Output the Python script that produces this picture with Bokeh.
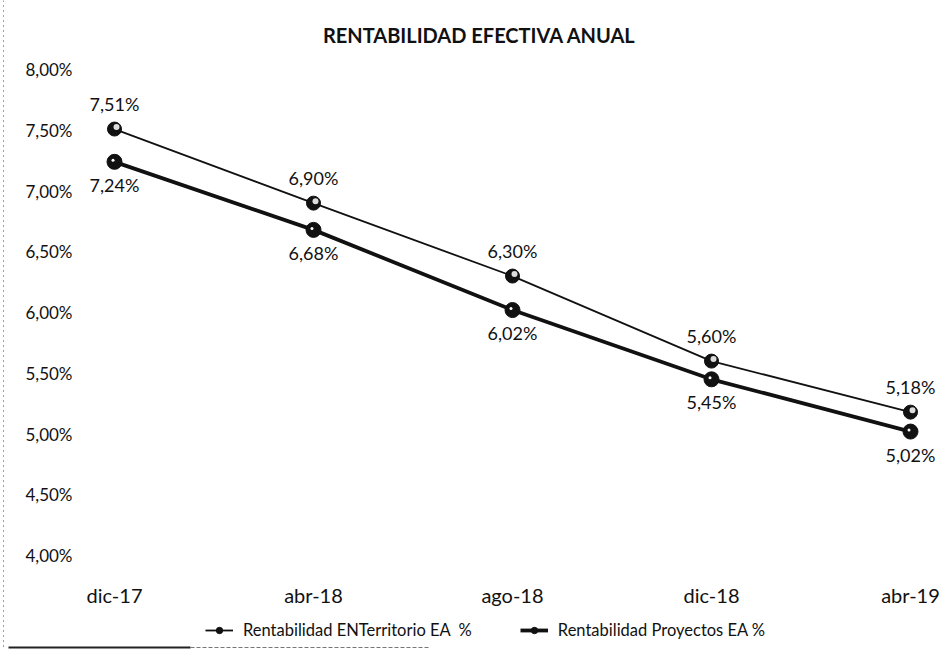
from bokeh.plotting import figure
from bokeh.models import Range1d, Label, LabelSet, ColumnDataSource, Legend, LegendItem, Span
from bokeh.core.properties import value
from bokeh.embed import file_html
from bokeh.resources import INLINE

categories = ["dic-17", "abr-18", "ago-18", "dic-18", "abr-19"]
territorio = [7.51, 6.90, 6.30, 5.60, 5.18]
proyectos = [7.24, 6.68, 6.02, 5.45, 5.02]
y_ticks = [4.0, 4.5, 5.0, 5.5, 6.0, 6.5, 7.0, 7.5, 8.0]
title_text = "RENTABILIDAD EFECTIVA ANUAL"
series_names = ["Rentabilidad ENTerritorio EA  %", "Rentabilidad Proyectos EA %"]

FONT = "Lato"
INK = "#111111"
xs = list(range(len(categories)))

def fmt(v):
    return ("%.2f" % v).replace(".", ",") + "%"

# layout (pixels): the frame covers the whole canvas
W, H = 946, 649
PXX = 199.0     # px per category step
PXY = 121.5     # px per 1 %
sx, sy = 1 / PXX, 1 / PXY
X0 = -114 * sx
X1 = X0 + W * sx
Y1 = 8.0 + 69 * sy
Y0 = Y1 - H * sy

def xdat(px):
    return X0 + px * sx

def ydat(py):
    return Y1 - py * sy

p = figure(width=W, height=H, output_backend="svg", toolbar_location=None,
           x_range=Range1d(X0, X1), y_range=Range1d(Y0, Y1),
           min_border_left=0, min_border_right=0, min_border_top=0, min_border_bottom=0)
p.outline_line_color = None
p.grid.visible = False
p.axis.visible = False
p.background_fill_color = "white"
p.border_fill_color = "white"

# scan border remnants
p.add_layout(Span(location=xdat(3), dimension="height", line_color="#444444",
                  line_width=1, line_dash="1 4"))
p.segment(x0=[xdat(8)], y0=[ydat(647)], x1=[xdat(190)], y1=[ydat(647)],
          line_color="#222222", line_width=2)
p.segment(x0=[xdat(190)], y0=[ydat(647)], x1=[xdat(430)], y1=[ydat(647)],
          line_color="#777777", line_width=1, line_dash="4 2")

# y tick labels
ytick_src = ColumnDataSource(dict(x=[xdat(72)] * len(y_ticks), y=y_ticks,
                                  lab=[fmt(t) for t in y_ticks]))
p.add_layout(LabelSet(x="x", y="y", text="lab", source=ytick_src, text_align="right",
                      text_baseline="middle", text_font=value(FONT), text_font_size="17px",
                      text_color=INK))

# category labels
cat_src = ColumnDataSource(dict(x=xs, y=[ydat(594)] * len(xs), lab=categories))
p.add_layout(LabelSet(x="x", y="y", text="lab", source=cat_src, text_align="center",
                      text_baseline="middle", text_font=value(FONT), text_font_size="20px",
                      text_color=INK))

src1 = ColumnDataSource(dict(x=xs, y=territorio, lab=[fmt(v) for v in territorio],
                             hx=[x + 2 * sx for x in xs], hy=[y + 2 * sy for y in territorio]))
src2 = ColumnDataSource(dict(x=xs, y=proyectos, lab=[fmt(v) for v in proyectos],
                             hx=[x - 1.5 * sx for x in xs], hy=[y + 1.5 * sy for y in proyectos]))

l1 = p.line("x", "y", source=src1, line_color=INK, line_width=1.8)
m1 = p.scatter("x", "y", source=src1, size=14, fill_color=INK, line_color=INK)
h1 = p.scatter("hx", "hy", source=src1, size=6, fill_color="#dddddd", line_color=None)

l2 = p.line("x", "y", source=src2, line_color=INK, line_width=3.8)
m2 = p.scatter("x", "y", source=src2, size=15, fill_color=INK, line_color=INK)
h2 = p.scatter("hx", "hy", source=src2, size=3, fill_color="white", line_color=None)

p.add_layout(LabelSet(x="x", y="y", text="lab", source=src1, y_offset=14,
                      text_align="center", text_baseline="bottom",
                      text_font=value(FONT), text_font_size="18px", text_color=INK))
p.add_layout(LabelSet(x="x", y="y", text="lab", source=src2, y_offset=-12,
                      text_align="center", text_baseline="top",
                      text_font=value(FONT), text_font_size="18px", text_color=INK))

# title
p.add_layout(Label(x=xdat(479), y=ydat(34), text=title_text,
                   text_align="center", text_baseline="middle", text_font=FONT,
                   text_font_size="20px", text_font_style="bold", text_color=INK))

legend = Legend(items=[LegendItem(label=series_names[0], renderers=[l1, m1]),
                       LegendItem(label=series_names[1], renderers=[l2, m2])],
                orientation="horizontal", location=(205, 9),
                label_text_font=FONT, label_text_font_size="16.5px", label_text_color=INK,
                glyph_width=28, glyph_height=16, spacing=48, label_standoff=10,
                border_line_color=None, background_fill_alpha=0, padding=0, margin=0)
p.add_layout(legend, "center")

open("out.html", "w").write(file_html(p, INLINE))
